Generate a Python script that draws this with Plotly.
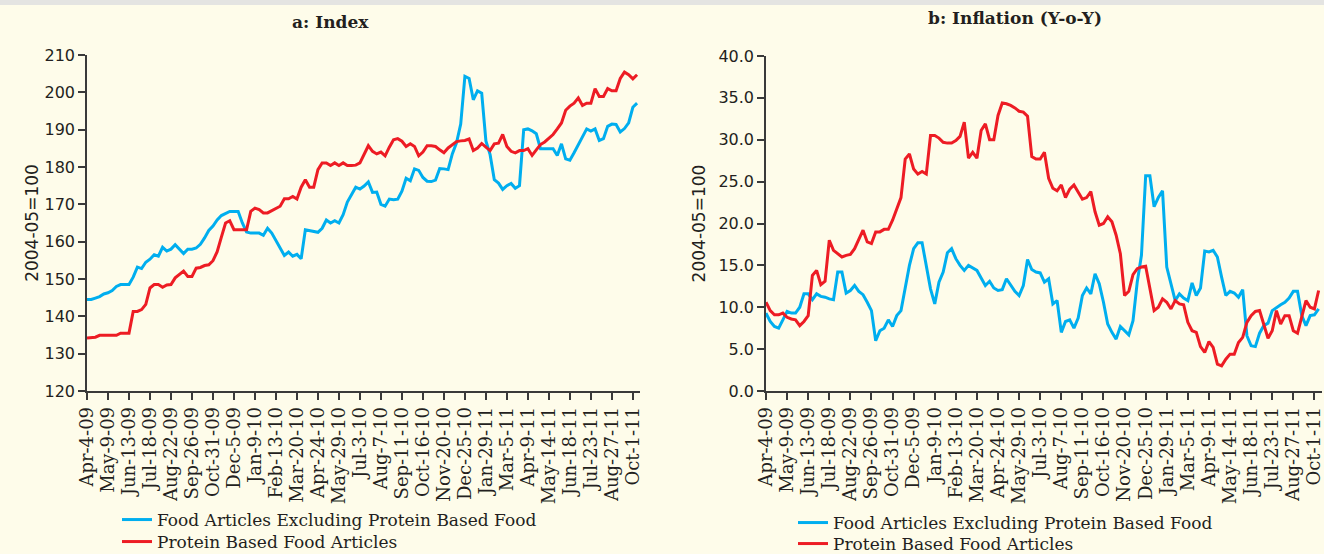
import pandas as pd
import plotly.graph_objects as go

start_date = "2009-04-04"
n_weeks = 132

tick_labels = ["Apr-4-09", "May-9-09", "Jun-13-09", "Jul-18-09", "Aug-22-09", "Sep-26-09",
               "Oct-31-09", "Dec-5-09", "Jan-9-10", "Feb-13-10", "Mar-20-10", "Apr-24-10",
               "May-29-10", "Jul-3-10", "Aug-7-10", "Sep-11-10", "Oct-16-10", "Nov-20-10",
               "Dec-25-10", "Jan-29-11", "Mar-5-11", "Apr-9-11", "May-14-11", "Jun-18-11",
               "Jul-23-11", "Aug-27-11", "Oct-1-11"]

series_names = ["Food Articles Excluding Protein Based Food", "Protein Based Food Articles"]

# Panel a: Index (2004-05=100)
index_nonprotein = [
    144.5, 144.5, 144.9, 145.3, 146.0, 146.3, 146.9, 148.0, 148.5, 148.5,
    148.5, 150.5, 153.2, 152.8, 154.5, 155.3, 156.5, 156.1, 158.5, 157.5,
    158.0, 159.2, 158.1, 156.8, 158.0, 158.0, 158.3, 159.3, 161.0, 163.0,
    164.2, 165.8, 167.0, 167.6, 168.1, 168.1, 168.1, 165.0, 162.6, 162.3,
    162.3, 162.3, 161.7, 163.6, 162.3, 160.2, 158.3, 156.3, 157.2, 156.1,
    156.6, 155.4, 163.2, 163.0, 162.6, 162.5, 163.6, 165.8, 165.0, 165.6,
    165.0, 167.2, 170.6, 172.6, 174.6, 174.1, 174.9, 176.0, 173.2, 173.3,
    170.0, 169.5, 171.4, 171.2, 171.4, 173.5, 177.0, 176.3, 179.5, 179.1,
    177.2, 176.2, 176.1, 176.5, 179.6, 179.5, 179.3, 183.5, 186.5, 191.5,
    204.3, 203.7, 198.0, 200.4, 199.8, 187.0, 183.3, 176.6, 175.7, 174.0,
    175.0, 175.6, 174.3, 175.0, 190.0, 190.2, 189.7, 188.9, 184.9, 184.9,
    184.9, 184.9, 183.1, 186.2, 182.2, 181.8, 183.8, 186.0, 188.0, 190.2,
    189.6, 190.2, 187.1, 187.6, 190.9, 191.5, 191.4, 189.4, 190.3, 191.8,
    196.0, 197.1]

index_protein = [
    134.2, 134.2, 134.4, 134.9, 134.9, 134.9, 134.9, 134.9, 135.5, 135.5,
    135.5, 141.3, 141.3, 141.8, 143.2, 147.6, 148.5, 148.5, 147.8, 148.4,
    148.5, 150.3, 151.2, 152.1, 150.7, 150.7, 152.9, 153.1, 153.6, 153.8,
    154.9, 157.3, 161.2, 165.0, 165.6, 163.2, 163.2, 163.2, 163.2, 168.1,
    169.0, 168.6, 167.7, 167.7, 168.3, 168.7, 169.5, 171.5, 171.5, 172.1,
    171.4, 174.6, 176.6, 174.6, 174.6, 179.3, 181.1, 181.1, 180.4, 181.1,
    180.4, 181.1, 180.4, 180.4, 180.5, 181.1, 183.3, 185.7, 184.2, 183.5,
    184.0, 183.0, 185.3, 187.3, 187.6, 186.9, 185.5, 186.2, 185.5, 183.0,
    184.0, 185.7, 185.7, 185.5, 184.6, 183.8, 185.1, 186.0, 186.8, 187.0,
    187.1, 187.5, 184.4, 185.1, 186.3, 185.3, 184.4, 186.2, 186.4, 188.7,
    185.5, 184.2, 183.8, 184.4, 184.4, 184.9, 183.1, 184.6, 186.0, 186.7,
    187.8, 188.7, 190.2, 191.8, 195.2, 196.3, 197.1, 198.5, 196.5, 197.1,
    197.1, 201.0, 198.9, 198.9, 201.0, 200.4, 200.4, 203.7, 205.4, 204.7,
    203.6, 204.7]

# Panel b: Inflation (Y-o-Y)
infl_nonprotein = [
    9.3, 8.3, 7.7, 7.5, 8.5, 9.5, 9.3, 9.3, 10.0, 11.6,
    11.6, 10.9, 11.6, 11.3, 11.2, 11.0, 10.9, 14.2, 14.2, 11.7,
    12.0, 12.6, 11.9, 11.5, 10.6, 9.6, 6.0, 7.2, 7.5, 8.5,
    7.7, 9.0, 9.6, 12.2, 15.0, 17.0, 17.7, 17.7, 15.0, 12.2,
    10.4, 13.0, 14.2, 16.5, 17.0, 15.8, 15.0, 14.4, 15.0, 14.7,
    14.4, 13.5, 12.6, 13.1, 12.3, 12.0, 12.1, 13.4, 12.7, 11.9,
    11.4, 12.6, 15.7, 14.5, 14.2, 14.1, 13.0, 13.4, 10.4, 10.8,
    7.0, 8.3, 8.5, 7.5, 8.7, 11.4, 12.3, 11.6, 14.0, 12.8,
    10.6, 8.0, 7.0, 6.2, 7.7, 7.2, 6.7, 8.4, 13.0, 16.2,
    25.7, 25.7, 22.0, 23.1, 23.9, 14.8, 12.8, 10.8, 11.6, 11.1,
    10.8, 12.9, 11.4, 12.3, 16.7, 16.6, 16.8, 16.0, 13.6, 11.4,
    11.9, 11.7, 11.2, 12.1, 6.6, 5.4, 5.3, 6.9, 7.8, 8.1,
    9.6, 10.0, 10.3, 10.6, 11.1, 11.9, 11.9, 9.0, 7.8, 9.0,
    9.1, 9.8]

infl_protein = [
    10.6, 9.6, 9.1, 9.1, 9.3, 8.8, 8.6, 8.5, 7.8, 8.3,
    9.0, 13.8, 14.4, 12.7, 13.1, 18.0, 16.8, 16.4, 16.0, 16.2,
    16.3, 17.0, 18.2, 19.2, 17.8, 17.6, 19.0, 19.0, 19.3, 19.3,
    20.4, 21.8, 23.1, 27.7, 28.3, 26.5, 25.9, 26.2, 25.9, 30.5,
    30.5, 30.2, 29.7, 29.6, 29.6, 29.9, 30.4, 32.1, 27.8, 28.5,
    27.8, 31.1, 31.9, 30.0, 30.0, 32.9, 34.4, 34.3, 34.1, 33.8,
    33.4, 33.3, 32.8, 28.0, 27.7, 27.7, 28.5, 25.4, 24.2, 23.9,
    24.6, 23.1, 24.1, 24.6, 23.7, 22.9, 23.1, 23.8, 21.4, 19.8,
    20.0, 20.8, 20.2, 18.6, 16.4, 11.4, 11.9, 13.9, 14.6, 14.8,
    14.9, 12.0, 9.6, 10.0, 11.0, 10.6, 9.8, 10.8, 10.4, 10.3,
    8.2, 7.2, 7.0, 5.3, 4.6, 5.9, 5.2, 3.2, 3.0, 3.8,
    4.4, 4.4, 5.8, 6.4, 8.2, 9.0, 9.5, 9.6, 8.0, 6.3,
    7.2, 9.6, 8.0, 9.0, 9.0, 7.2, 6.9, 9.0, 10.8, 10.0,
    9.8, 12.0]

dates = pd.date_range(start_date, periods=n_weeks, freq="7D")
tick_vals = list(dates[::5][:len(tick_labels)])

BLUE = "#00AEEF"
RED = "#ED1C24"
BG = "#FEFCEA"
AX = "#3a3a3a"
TXT = "#231F20"
W, H = 1324, 554

fig = go.Figure()
fig.add_trace(go.Scatter(x=dates, y=index_nonprotein, mode="lines", name=series_names[0],
                         line=dict(color=BLUE, width=3), xaxis="x", yaxis="y", legend="legend"))
fig.add_trace(go.Scatter(x=dates, y=index_protein, mode="lines", name=series_names[1],
                         line=dict(color=RED, width=3), xaxis="x", yaxis="y", legend="legend2"))
fig.add_trace(go.Scatter(x=dates, y=infl_nonprotein, mode="lines", name=series_names[0],
                         line=dict(color=BLUE, width=3), xaxis="x2", yaxis="y2", legend="legend3"))
fig.add_trace(go.Scatter(x=dates, y=infl_protein, mode="lines", name=series_names[1],
                         line=dict(color=RED, width=3), xaxis="x2", yaxis="y2", legend="legend4"))

def px_x(p):
    return p / W

def px_y(p):
    return 1 - p / H

xcommon = dict(type="date", tickmode="array", tickvals=tick_vals, ticktext=tick_labels,
               tickangle=-90, showline=True, linecolor=AX, linewidth=1.5, ticks="outside",
               ticklen=7, tickwidth=1.5, tickcolor=AX, showgrid=False, zeroline=False,
               automargin=False, ticklabeloverflow="allow",
               tickfont=dict(family="DejaVu Serif", size=18, color=TXT))
ycommon = dict(showline=True, linecolor=AX, linewidth=1.5, ticks="outside", ticklen=7,
               tickwidth=1.5, tickcolor=AX, showgrid=False, zeroline=False, automargin=False,
               tickfont=dict(family="DejaVu Sans", size=16, color=TXT),
               title=dict(text="2004-05=100", font=dict(family="DejaVu Sans", size=17, color=TXT)))

end_a = dates[0] + pd.Timedelta(weeks=131.7)
end_b = dates[0] + pd.Timedelta(weeks=131.8)

def leg(xp, top):
    return dict(x=px_x(xp), y=px_y(top), xanchor="left", yanchor="top",
                bgcolor="rgba(0,0,0,0)", font=dict(family="DejaVu Serif", size=17, color=TXT),
                tracegroupgap=0, itemwidth=30)

fig.update_layout(
    width=W, height=H,
    margin=dict(l=0, r=0, t=0, b=0, pad=0, autoexpand=False),
    paper_bgcolor=BG, plot_bgcolor=BG,
    showlegend=True,
    xaxis=dict(**xcommon, domain=[px_x(87), px_x(640)], range=[dates[0], end_a], anchor="y"),
    yaxis=dict(**ycommon, domain=[px_y(391), px_y(55)], range=[120, 210], dtick=10, anchor="x",
               title_standoff=2),
    xaxis2=dict(**xcommon, domain=[px_x(766), px_x(1322)], range=[dates[0], end_b], anchor="y2"),
    yaxis2=dict(**ycommon, domain=[px_y(391), px_y(56)], range=[0, 40], dtick=5,
                tickformat=".1f", anchor="x2", title_standoff=8),
    legend=leg(117, 502),
    legend2=leg(117, 524),
    legend3=leg(793, 505),
    legend4=leg(793, 526),
    annotations=[
        dict(text="<b>a: Index</b>", x=px_x(330), y=px_y(22), xref="paper", yref="paper",
             xanchor="center", yanchor="middle", showarrow=False,
             font=dict(family="DejaVu Serif", size=17, color=TXT)),
        dict(text="<b>b: Inflation (Y-o-Y)</b>", x=px_x(1015), y=px_y(18), xref="paper",
             yref="paper", xanchor="center", yanchor="middle", showarrow=False,
             font=dict(family="DejaVu Serif", size=17, color=TXT)),
    ],
    shapes=[dict(type="rect", xref="paper", yref="paper", x0=0, x1=1, y0=px_y(5), y1=1,
                 fillcolor="#E4E4E2", line=dict(width=0), layer="above")],
)

fig.write_html("out.html", config={"displayModeBar": False},
               post_script="document.body.style.margin='0px';document.body.style.overflow='hidden';")
